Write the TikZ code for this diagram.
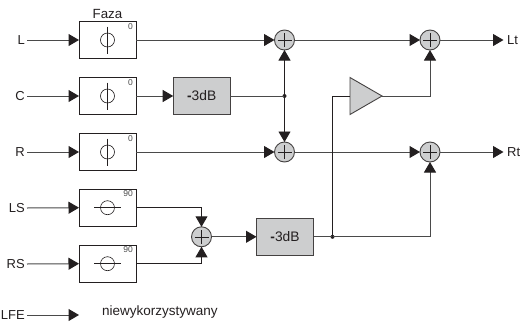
\documentclass[tikz,border=0pt]{standalone}
\usepackage{fontspec}
\setmainfont{Liberation Sans}
\usetikzlibrary{arrows.meta,shapes.geometric,calc}
\definecolor{fillg}{HTML}{CDCECF}
\definecolor{lineg}{HTML}{4A4A4A}
\definecolor{inkk}{HTML}{231F20}
\tikzset{
  x=1pt,y=-1pt,
  phasebox/.style={draw=inkk,line width=.9pt,fill=white,minimum width=57pt,minimum height=37pt,inner sep=0pt,outer sep=0pt},
  gainbox/.style={draw=inkk!85,line width=.9pt,fill=fillg,minimum width=57pt,minimum height=37pt,inner sep=0pt,outer sep=0pt,font=\fontsize{13.8}{15}\selectfont,text=inkk},
  sumnode/.style={circle,draw=inkk!85,line width=.9pt,fill=fillg,minimum size=20pt,inner sep=0pt,outer sep=0pt,
    path picture={\draw[inkk,line width=.5pt] ([xshift=-7pt]path picture bounding box.center)--([xshift=7pt]path picture bounding box.center)
    ([yshift=-7pt]path picture bounding box.center)--([yshift=7pt]path picture bounding box.center);}},
  ampnode/.style={draw=inkk!85,line width=.9pt,fill=fillg,inner sep=0pt,outer sep=0pt},
  dotnode/.style={circle,fill=inkk,minimum size=4pt,inner sep=0pt,outer sep=0pt},
  inlabel/.style={anchor=east,inner sep=0pt,font=\fontsize{13}{15}\selectfont,text=inkk},
  outlabel/.style={anchor=west,inner sep=0pt,font=\fontsize{13}{15}\selectfont,text=inkk},
  flow/.style={draw=lineg,line width=1pt,-{Triangle[length=10.5pt,width=12pt,color=inkk]}},
  plainflow/.style={draw=lineg,line width=1pt},
  darkflow/.style={draw=inkk,line width=.9pt},
  darktip/.style={darkflow,-{Triangle[length=10.5pt,width=12pt,color=inkk]}},
  angle/.style={anchor=north east,inner sep=0pt,font=\fontsize{8.5}{9}\selectfont,text=lineg},
  glyph/.style={draw=inkk,line width=.6pt},
}
\newcommand{\vphase}[1]{%
  \draw[glyph] (#1) circle (7pt);
  \draw[glyph] ($(#1)+(0,-13.5)$) -- ($(#1)+(0,13.5)$);}
\newcommand{\hphase}[1]{%
  \draw[glyph] (#1) circle (7pt);
  \draw[glyph] ($(#1)+(-13.5,0)$) -- ($(#1)+(13.5,0)$);}
\begin{document}
\begin{tikzpicture}
\useasboundingbox (0,0) rectangle (520,327);
% input labels
\node[inlabel] (iL) at (25,40) {L};
\node[inlabel] (iC) at (25,96) {C};
\node[inlabel] (iR) at (25,152) {R};
\node[inlabel] (iLS) at (25,208) {LS};
\node[inlabel] (iRS) at (25,264) {RS};
\node[inlabel] (iLFE) at (25,315) {LFE};
% phase boxes
\node[phasebox] (pL) at (107.5,40) {};
\node[phasebox] (pC) at (107.5,96) {};
\node[phasebox] (pR) at (107.5,152) {};
\node[phasebox] (pLS) at (107.5,207.7) {};
\node[phasebox] (pRS) at (107.5,263.7) {};
\vphase{pL}\vphase{pC}\vphase{pR}\hphase{pLS}\hphase{pRS}
\node[angle] (a1) at (133,23) {0};
\node[angle] (a2) at (133,79) {0};
\node[angle] (a3) at (133,135) {0};
\node[angle] (a4) at (133,190.5) {90};
\node[angle] (a5) at (133,246.5) {90};
\node[inner sep=0pt,font=\fontsize{13.3}{15}\selectfont,text=inkk] (faza) at (107.5,13.5) {Faza};
% gains
\node[gainbox] (gC) at (201.7,96) {\textbf{-}3dB};
\node[gainbox] (gS) at (285,236.8) {\textbf{-}3dB};
% sums
\node[sumnode] (s1) at (284.5,40) {};
\node[sumnode] (s2) at (284.5,152) {};
\node[sumnode] (s3) at (430,40) {};
\node[sumnode] (s4) at (430,152) {};
\node[sumnode] (s5) at (201.5,236.8) {};
% amp
\node[ampnode,isosceles triangle,isosceles triangle apex angle=60,minimum height=32pt,minimum width=37pt,shape border rotate=0,anchor=lower side] (amp) at (350,96) {};
% junctions
\node[dotnode] (j1) at (284.5,96) {};
\node[dotnode] (j2) at (332.5,236.8) {};
% outputs
\coordinate (oLt) at (503.5,40);
\coordinate (oRt) at (503.5,152);
\coordinate (eLFE) at (79,315);
\node[outlabel] (lLt) at (507,40) {Lt};
\node[outlabel] (lRt) at (507,152) {Rt};
\node[anchor=west,inner sep=0pt,font=\fontsize{13.5}{15}\selectfont,text=inkk] (nw) at (102,312.5) {niewykorzystywany};
% inputs
\foreach \a/\b in {iL/pL,iC/pC,iR/pR,iLS/pLS,iRS/pRS}{
  \draw[flow] (\a.east) ++(2,0) -- (\b.west);}
\draw[flow] (iLFE.east) ++(2,0) -- (eLFE);
% main lines
\draw[flow] (pL.east) -- (s1.west);
\draw[flow] (pC.east) -- (gC.west);
\draw[flow] (pR.east) -- (s2.west);
\draw[flow] (s1.east) -- (s3.west);
\draw[flow] (s2.east) -- (s4.west);
\draw[flow] (s3.east) -- (oLt);
\draw[flow] (s4.east) -- (oRt);
\draw[plainflow] (gC.east) -- (j1.center);
\draw[darktip] (j1.center) -- (s1.south);
\draw[darktip] (j1.center) -- (s2.north);
\draw[darktip] (pLS.east) -| (s5.north);
\draw[darktip] (pRS.east) -| (s5.south);
\draw[flow] (s5.east) -- (gS.west);
\draw[plainflow] (gS.east) -- (j2.center);
\draw[flow] (j2.center) -| (s4.south);
\draw[darkflow] (j2.center) -- (332.5,96) -- (amp.lower side);
\draw[flow] (amp.apex) -| (s3.south);
\end{tikzpicture}
\end{document}
